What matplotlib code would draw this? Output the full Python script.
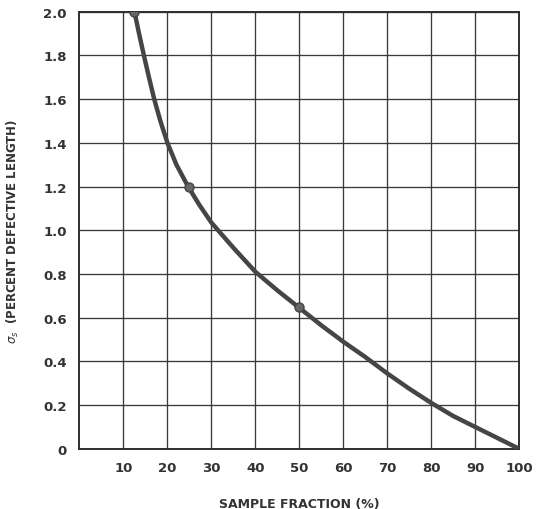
import matplotlib
matplotlib.use("Agg")
import matplotlib.pyplot as plt

# Curve readings (sample fraction %, sigma_s)
x_curve = [12.5, 13.55, 14.65, 15.8, 17.0, 18.4, 20.0, 22.05, 24.7, 27.3, 30, 35, 40, 45,
           50, 55, 60, 65, 70, 75, 80, 85, 90, 95, 100]
y_curve = [2.0, 1.9, 1.8, 1.7, 1.6, 1.5, 1.4, 1.3, 1.2, 1.115, 1.035, 0.92, 0.81, 0.725,
           0.645, 0.565, 0.49, 0.42, 0.345, 0.275, 0.21, 0.15, 0.10, 0.05, 0.0]
# Marked points
x_pts = [12.5, 25, 50]
y_pts = [2.0, 1.2, 0.65]

x_ticks = [10, 20, 30, 40, 50, 60, 70, 80, 90, 100]
y_ticks = [0, 0.2, 0.4, 0.6, 0.8, 1.0, 1.2, 1.4, 1.6, 1.8, 2.0]
y_ticklabels = ["0", "0.2", "0.4", "0.6", "0.8", "1.0", "1.2", "1.4", "1.6", "1.8", "2.0"]

fig = plt.figure(figsize=(5.5, 5.1), dpi=100)
ax = fig.add_axes([0.1445, 0.118, 0.7995, 0.857])

ink = "#333333"
ax.set_xlim(0, 100)
ax.set_ylim(0, 2.0)
ax.set_xticks(x_ticks)
ax.set_xticklabels([str(v) for v in x_ticks])
ax.set_yticks(y_ticks)
ax.set_yticklabels(y_ticklabels)
ax.grid(True, color="#3a3a3a", linewidth=0.95)
ax.set_axisbelow(True)
for s in ax.spines.values():
    s.set_color("#2e2e2e")
    s.set_linewidth(1.4)
ax.tick_params(length=0, pad=9, labelsize=9.5, colors=ink)
for lab in ax.get_xticklabels() + ax.get_yticklabels():
    lab.set_fontweight("bold")

ax.plot(x_curve, y_curve, color="#454545", linewidth=3.2, solid_capstyle="round",
        solid_joinstyle="round", zorder=3)
ax.plot(x_pts, y_pts, linestyle="none", marker="o", markersize=6.5,
        markerfacecolor="#666666", markeredgecolor="#444444", zorder=4)

ax.set_xlabel("SAMPLE FRACTION (%)", fontsize=9, fontweight="bold", color=ink, labelpad=16)
ax.set_ylabel(r"$\sigma_s$  (PERCENT DEFECTIVE LENGTH)", fontsize=8.5, fontweight="bold",
              color=ink, labelpad=16)

fig.savefig("out.png", dpi=100, facecolor="white")
